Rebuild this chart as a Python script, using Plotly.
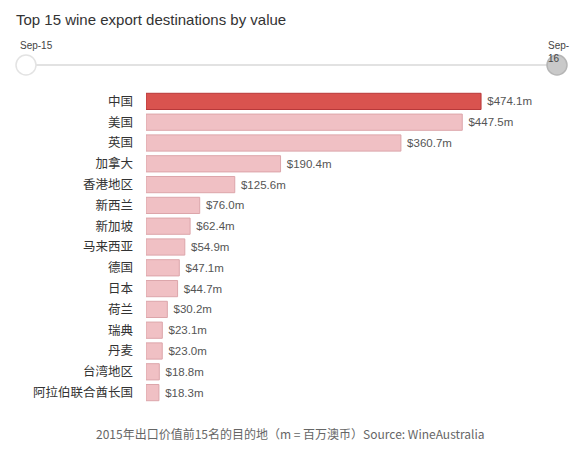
import plotly.graph_objects as go

# Top 15 wine export destinations by value (A$ millions)
destinations = ["中国", "美国", "英国", "加拿大", "香港地区", "新西兰", "新加坡", "马来西亚",
                "德国", "日本", "荷兰", "瑞典", "丹麦", "台湾地区", "阿拉伯联合酋长国"]
values = [474.1, 447.5, 360.7, 190.4, 125.6, 76.0, 62.4, 54.9, 47.1, 44.7, 30.2, 23.1, 23.0, 18.8, 18.3]
period_start = "Sep-15"
period_end = "Sep-<br>16"

W, H = 575, 450
ML, MR, MT, MB = 146, 29, 91, 47
PW, PH = W - ML - MR, H - MT - MB

def px(x):
    return (x - ML) / PW

def py(y):
    return (H - MB - y) / PH

fills = ["#d9534f" if i == 0 else "#f0c0c4" for i in range(len(values))]
edges = ["#b8393a" if i == 0 else "#dca5aa" for i in range(len(values))]

fig = go.Figure(go.Bar(
    x=values,
    y=destinations,
    orientation="h",
    marker=dict(color=fills, line=dict(color=edges, width=1)),
    text=[f" ${v:.1f}m" for v in values],
    textposition="outside",
    textfont=dict(size=11.5, color="#555555", family="Liberation Sans, Arial"),
    cliponaxis=False,
    hoverinfo="skip",
))

# Time slider decoration
shapes = [
    dict(type="line", xref="paper", yref="paper", x0=px(26), x1=px(557), y0=py(65), y1=py(65),
         line=dict(color="#e2e2e2", width=2), layer="above"),
    dict(type="circle", xref="paper", yref="paper", x0=px(16), x1=px(36), y0=py(75), y1=py(55),
         fillcolor="#ffffff", line=dict(color="#e3e3e3", width=1.5), layer="above"),
]
annotations = [
    dict(text="Top 15 wine export destinations by value", xref="paper", yref="paper",
         x=px(14), y=py(20), xanchor="left", yanchor="middle", showarrow=False,
         font=dict(size=15, color="#333333", family="Liberation Sans, Arial")),
    dict(text=period_start, xref="paper", yref="paper", x=px(18), y=py(45),
         xanchor="left", yanchor="middle", showarrow=False,
         font=dict(size=10, color="#444444", family="Liberation Sans, Arial")),
    dict(text=period_end, xref="paper", yref="paper", x=px(546), y=py(38),
         xanchor="left", yanchor="top", align="left", showarrow=False,
         font=dict(size=10, color="#444444", family="Liberation Sans, Arial")),
    dict(text="2015年出口价值前15名的目的地（m = 百万澳币）Source: WineAustralia",
         xref="paper", yref="paper", x=px(290), y=py(433), xanchor="center", yanchor="middle",
         showarrow=False, font=dict(size=12, color="#666666", family="Noto Sans CJK SC, Liberation Sans")),
]
shapes.append(dict(type="circle", xref="paper", yref="paper", x0=px(547), x1=px(567), y0=py(75), y1=py(55),
                   fillcolor="#c9c9c9", line=dict(color="#b5b5b5", width=1.5), layer="above"))

fig.update_layout(
    width=W, height=H,
    margin=dict(l=ML, r=MR, t=MT, b=MB),
    paper_bgcolor="#ffffff", plot_bgcolor="#ffffff",
    showlegend=False,
    bargap=0.22,
    xaxis=dict(range=[0, 566], visible=False, fixedrange=True),
    yaxis=dict(autorange="reversed", showgrid=False, zeroline=False, showline=False,
               ticks="", ticklabelstandoff=12,
               tickfont=dict(size=12.5, color="#333333", family="Noto Sans CJK SC")),
    shapes=shapes,
    annotations=annotations,
    font=dict(family="Liberation Sans, Arial"),
)

fig.write_html("out.html")
